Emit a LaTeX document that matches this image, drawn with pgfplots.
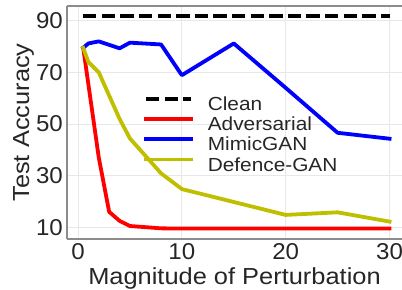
\documentclass[border=0pt]{standalone}
\usepackage{pgfplots}
\pgfplotsset{compat=1.18}
\usepackage{fontspec}
\setmainfont{Liberation Sans}
\newfontfamily\labfont[FakeStretch=1.095]{Liberation Sans}
\newfontfamily\legfont[FakeStretch=1.1]{Liberation Sans}
\newfontfamily\tickfont[FakeStretch=1.05]{Liberation Sans}
\usetikzlibrary{calc}
\definecolor{txt}{HTML}{262626}
\definecolor{spine}{HTML}{8C8C8C}
\definecolor{gridc}{HTML}{E8E8E8}
\definecolor{olivey}{rgb}{0.75,0.75,0}
\begin{document}
\begin{tikzpicture}
\begin{axis}[
  name=ax,
  scale only axis,
  width=335bp, height=233bp,
  xmin=-1.06, xmax=31.2,
  ymin=5.47, ymax=95.7,
  axis x line=box, axis y line=left,
  axis line style={-, draw=spine, line width=1.2bp},
  xtick={0,10,20,30}, ytick={10,30,50,70,90},
  major tick length=0pt,
  grid=major,
  major grid style={draw=gridc, line width=1bp},
  /pgf/number format/assume math mode=true,
  tick label style={font=\tickfont\fontsize{23}{23}\selectfont, text=txt, inner sep=0pt},
  xticklabel style={yshift=-4bp},
  yticklabel style={xshift=-4bp},
  xlabel={Magnitude of Perturbation},
  ylabel={Test Accuracy},
  label style={font=\labfont\fontsize{23.3}{23.3}\selectfont, text=txt, inner sep=0pt},
  xlabel style={at={(axis description cs:0.5,-0.1944)}, anchor=base},
  ylabel style={at={(axis description cs:-0.1128,0.5)}, anchor=base},
  legend image code/.code={\draw[#1] (0bp,6.8bp) -- (45bp,6.8bp);},
  legend style={
    at={(axis description cs:0.2299,0.6094)}, anchor=north west,
    draw=none, fill=none, inner sep=0pt, outer sep=0pt,
    row sep=2.7bp, column sep=15bp,
    font=\legfont\fontsize{19}{19}\selectfont, text=txt,
    nodes={inner sep=0pt, text height=13.5bp, text depth=4bp},
  },
  legend cell align=left,
  every axis plot/.append style={line width=3.8bp, line join=round, line cap=rect},
]
\addplot[black, line cap=butt, dash pattern=on 13.3bp off 5.3bp] coordinates {
  (0.5,91.9) (30,91.9)
};
\addlegendentry{Clean}
\addplot[red] coordinates {
  (0.5,79.5) (2,37) (3,16) (4,12.5) (5,10.5) (8,9.6) (10,9.5) (15,9.5) (20,9.5) (25,9.5) (30,9.5)
};
\addlegendentry{Adversarial}
\addplot[blue] coordinates {
  (0.5,79.5) (1,81.2) (2,82) (4,79.3) (5,81.5) (8,80.8) (10,68.9) (15,81.2) (20,64) (25,46.6) (30,44.3)
};
\addlegendentry{MimicGAN}
\addplot[olivey] coordinates {
  (0.5,79.5) (1,74) (2,70) (3,61) (4,52) (5,44.4) (8,30.9) (10,24.8) (15,19.8) (20,14.8) (25,15.8) (30,12.2)
};
\addlegendentry{Defence-GAN}
\end{axis}
\pgfresetboundingbox
\useasboundingbox ($(ax.south west)+(-67bp,-51bp)$) rectangle ($(ax.north east)+(0bp,6bp)$);
\end{tikzpicture}
\end{document}
